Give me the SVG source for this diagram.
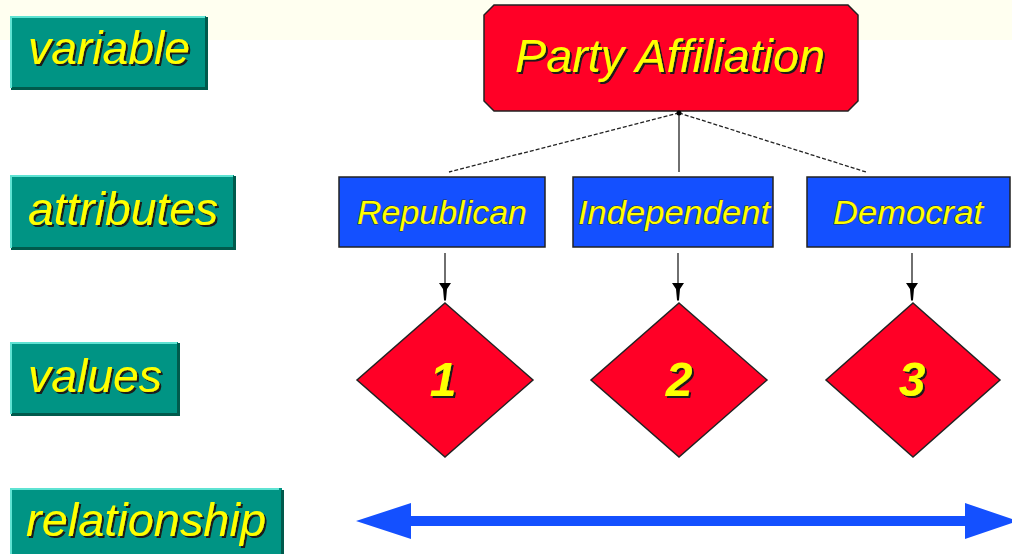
<svg xmlns="http://www.w3.org/2000/svg" width="1012" height="554" viewBox="0 0 1012 554">
<defs>
<filter id="sh" x="-10%" y="-10%" width="130%" height="140%">
<feOffset in="SourceAlpha" dx="2" dy="2" result="o"/>
<feFlood flood-color="#1a1a1a"/>
<feComposite in2="o" operator="in" result="s"/>
<feMerge><feMergeNode in="s"/><feMergeNode in="SourceGraphic"/></feMerge>
</filter>
<marker id="ah" markerWidth="18" markerHeight="12" refX="17" refY="6" orient="auto" markerUnits="userSpaceOnUse" viewBox="0 0 18 12">
<path d="M0,0 L6,4 L17,5 L18,6 L17,7 L6,8 L0,12 Z" fill="#000"/>
</marker>
</defs>
<style>
.lab{fill:#009484;}
.hl{fill:none;stroke:#5fe3d3;stroke-width:2;}
.dk{fill:none;stroke:#005a4c;stroke-width:3;}
.lt{font-family:"Liberation Sans",Arial,sans-serif;font-style:italic;font-size:46px;fill:#ffff00;filter:url(#sh);}
.at{fill:#1450ff;stroke:#222;stroke-width:1.5;}
.att{font-family:"Liberation Sans",Arial,sans-serif;font-style:italic;font-size:33px;fill:#ffff00;stroke:#333;stroke-width:0.8;paint-order:stroke;text-anchor:middle;}
.dia{fill:#ff0026;stroke:#222;stroke-width:1.5;}
.num{font-family:"Liberation Sans",Arial,sans-serif;font-style:italic;font-weight:bold;font-size:48px;fill:#ffff00;text-anchor:middle;filter:url(#sh);}
.con{stroke:#222;stroke-width:1.3;fill:none;}
</style>
<rect x="0" y="0" width="1012" height="554" fill="#fff"/>
<rect x="0" y="0" width="1012" height="40" fill="#fffff0"/>

<g id="label-variable">
<rect class="lab" x="10" y="16" width="196" height="72"/>
<path class="dk" d="M11,88.5 H206.5 V17"/>
<path class="hl" d="M11,88 V17 H205"/>
<text class="lt" x="28" y="64" textLength="162" lengthAdjust="spacingAndGlyphs">variable</text>
</g>
<g id="label-attributes">
<rect class="lab" x="10" y="175" width="224" height="73"/>
<path class="dk" d="M11,248.5 H234.5 V176"/>
<path class="hl" d="M11,248 V176 H233"/>
<text class="lt" x="28" y="225" textLength="190" lengthAdjust="spacingAndGlyphs">attributes</text>
</g>
<g id="label-values">
<rect class="lab" x="10" y="342" width="168" height="72"/>
<path class="dk" d="M11,414.5 H178.5 V343"/>
<path class="hl" d="M11,414 V343 H177"/>
<text class="lt" x="28" y="392" textLength="134" lengthAdjust="spacingAndGlyphs">values</text>
</g>
<g id="label-relationship">
<rect class="lab" x="10" y="488" width="272" height="70"/>
<path class="dk" d="M282.5,490 V558"/>
<path class="hl" d="M11,558 V489 H279"/>
<text class="lt" x="26" y="536" textLength="240" lengthAdjust="spacingAndGlyphs">relationship</text>
</g>

<g id="party-affiliation">
<path d="M494,5 H848 L858,15 V101 L848,111 H494 L484,101 V15 Z" fill="#ff0026" stroke="#222" stroke-width="1.5"/>
<text class="lt" x="515" y="72" textLength="310" lengthAdjust="spacingAndGlyphs">Party Affiliation</text>
</g>

<g id="republican">
<rect class="at" x="339" y="177" width="206" height="70"/>
<text class="att" x="442" y="224" textLength="170" lengthAdjust="spacingAndGlyphs">Republican</text>
</g>
<g id="independent">
<rect class="at" x="573" y="177" width="200" height="70"/>
<text class="att" x="674" y="224" textLength="192" lengthAdjust="spacingAndGlyphs">Independent</text>
</g>
<g id="democrat">
<rect class="at" x="807" y="177" width="203" height="70"/>
<text class="att" x="908" y="224" textLength="150" lengthAdjust="spacingAndGlyphs">Democrat</text>
</g>

<g id="value-1">
<path class="dia" d="M445,303 L533,380 L445,457 L357,380 Z"/>
<text class="num" x="443" y="396">1</text>
</g>
<g id="value-2">
<path class="dia" d="M679,303 L767,380 L679,457 L591,380 Z"/>
<text class="num" x="679" y="396">2</text>
</g>
<g id="value-3">
<path class="dia" d="M913,303 L1000,380 L913,457 L826,380 Z"/>
<text class="num" x="912" y="396">3</text>
</g>

<g id="connectors">
<line class="con" x1="679" y1="113" x2="449" y2="172" stroke-dasharray="4,2"/>
<line class="con" x1="679" y1="113" x2="679" y2="172"/>
<line class="con" x1="679" y1="113" x2="866" y2="172" stroke-dasharray="4,2"/>
<circle cx="679" cy="113" r="2.5" fill="#000"/>
<line class="con" x1="445" y1="253" x2="445" y2="300" marker-end="url(#ah)"/>
<line class="con" x1="678" y1="253" x2="678" y2="300" marker-end="url(#ah)"/>
<line class="con" x1="912" y1="253" x2="912" y2="300" marker-end="url(#ah)"/>
<path d="M356,521 L411,503 V516 H965 V503 L1012,519 V523 L965,539 V526 H411 V539 Z" fill="#1450ff"/>
</g>
</svg>
